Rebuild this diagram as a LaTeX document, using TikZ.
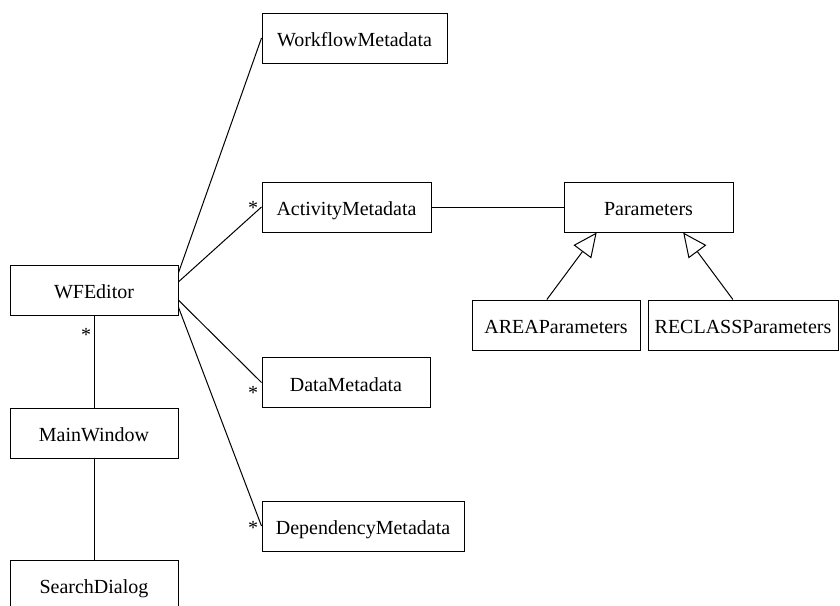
\documentclass[tikz,border=0pt]{standalone}
\usepackage{fontspec}
\setmainfont{Liberation Serif}
\usetikzlibrary{arrows.meta,calc}

\tikzset{
  classbox/.style={draw=black, line width=1pt, minimum height=50, inner sep=0pt,
    text height=19, text depth=2, font=\fontsize{20}{24}\selectfont},
  assoc/.style={draw=black, line width=1pt},
  mult/.style={inner sep=0pt, font=\fontsize{20}{24}\selectfont},
  inherit/.style={assoc, -{Triangle[open, length=24, width=22, line width=1pt]}}
}

\begin{document}
\begin{tikzpicture}[x=1pt, y=-1pt]
\useasboundingbox (0,0) rectangle (840,605);

% classes
\node[classbox, minimum width=168] (wf)   at (94,290)    {WFEditor};
\node[classbox, minimum width=168] (mw)   at (94,433)    {MainWindow};
\node[classbox, minimum width=168] (sd)   at (94,585)    {SearchDialog};
\node[classbox, minimum width=185] (wm)   at (354.5,38)  {WorkflowMetadata};
\node[classbox, minimum width=169] (am)   at (346.5,207) {ActivityMetadata};
\node[classbox, minimum width=168] (dm)   at (346,382.5) {DataMetadata};
\node[classbox, minimum width=202] (dep)  at (363,526)   {DependencyMetadata};
\node[classbox, minimum width=169] (par)  at (648.5,207) {Parameters};
\node[classbox, minimum width=168] (area) at (556,325)   {AREAParameters};
\node[classbox, minimum width=190] (rec)  at (743,325)   {RECLASSParameters};

% attachment points on the WFEditor right side
\coordinate (wfa) at ($(wf.north east)!0.16!(wf.south east)$);
\coordinate (wfb) at ($(wf.north east)!0.34!(wf.south east)$);
\coordinate (wfc) at ($(wf.north east)!0.70!(wf.south east)$);
\coordinate (wfd) at ($(wf.north east)!0.84!(wf.south east)$);

% associations
\draw[assoc] (wfa) -- (wm.west);
\draw[assoc] (wfb) -- (am.west);
\draw[assoc] (wfc) -- (dm.west);
\draw[assoc] (wfd) -- (dep.west);
\draw[assoc] (wf.south) -- (mw.north);
\draw[assoc] (mw.south) -- (sd.north);
\draw[assoc] (am.east) -- (par.west);

% generalisations
\coordinate (areatop) at ($(area.north west)!0.446!(area.north east)$);
\coordinate (rectop)  at ($(rec.north west)!0.447!(rec.north east)$);
\coordinate (parl)    at ($(par.south west)!0.195!(par.south east)$);
\coordinate (parr)    at ($(par.south west)!0.704!(par.south east)$);
\draw[inherit] (areatop) -- (parl);
\draw[inherit] (rectop) -- (parr);

% multiplicities
\node[mult] (m1) at (86,335)  {*};
\node[mult] (m2) at (253,208) {*};
\node[mult] (m3) at (253,393) {*};
\node[mult] (m4) at (253,528) {*};
\end{tikzpicture}
\end{document}
